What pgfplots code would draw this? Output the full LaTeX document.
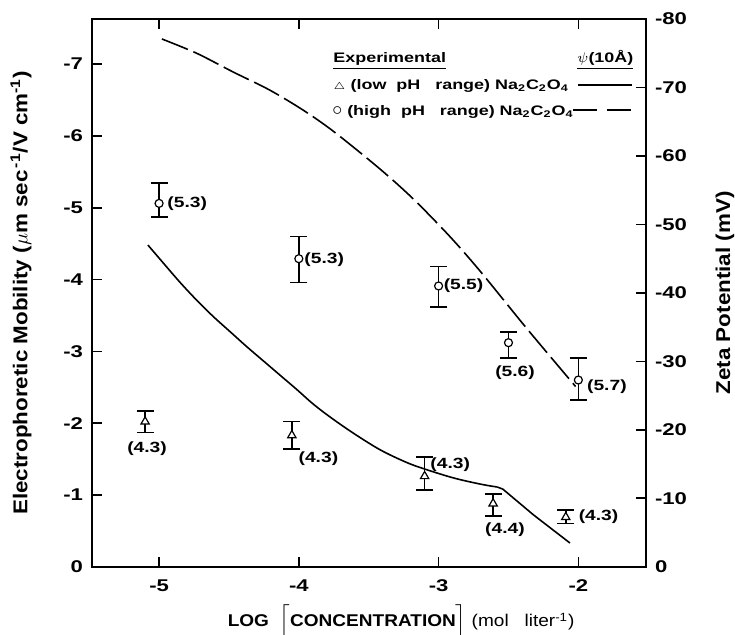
\documentclass[border=0pt]{standalone}
\usepackage{fontspec}
\setmainfont{Liberation Sans}
\newfontfamily\wide{Liberation Sans}[FakeStretch=1.3]
\newfontfamily\semiwide{Liberation Sans}[FakeStretch=1.12]
\usepackage{pgfplots}
\usepackage{pgfplotstable}
\pgfplotsset{compat=1.18}

% Electrophoretic mobility, high pH range (circles): x, y, error plus, error minus
\pgfplotstableread{
x     y      ep    em
-5.00 -5.06  0.19  0.28
-4.00 -4.29  0.33  0.31
-3.00 -3.91  0.29  0.27
-2.50 -3.12  0.21  0.15
-2.00 -2.60  0.28  0.31
}\highpH

% Electrophoretic mobility, low pH range (triangles)
\pgfplotstableread{
x     y      ep    em
-5.10 -2.02  0.15  0.15
-4.05 -1.83  0.19  0.19
-3.10 -1.26  0.19  0.27
-2.61 -0.88  0.17  0.13
-2.09 -0.69  0.09  0.10
}\lowpH

\newcommand{\tickfnt}{\wide\bfseries\fontsize{8.5}{10}\selectfont}
\newcommand{\labfnt}{\wide\bfseries\fontsize{7.4}{8}\selectfont}
\newcommand{\legfnt}{\wide\bfseries\fontsize{6.9}{8}\selectfont}
\newcommand{\oxalate}{Na\textsubscript{2}C\textsubscript{2}O\textsubscript{4}}

\begin{document}
\begin{tikzpicture}
\useasboundingbox (-46pt,-33.65pt) rectangle (321.5pt,283.35pt);
\begin{axis}[
  at={(0pt,0pt)}, anchor=south west,
  scale only axis, width=277pt, height=273.85pt,
  xmin=-5.48, xmax=-1.516, ymin=-7.628, ymax=0,
  y dir=reverse,
  axis line style={line width=1pt},
  tick align=inside, major tick length=5pt,
  tick style={line width=0.8pt, black},
  xtick={-5,-4,-3,-2}, xticklabels={-5,-4,-3,-2},
  xtick pos=both,
  ytick={-7,-6,-5,-4,-3,-2,-1,0},
  yticklabels={-7,-6,-5,-4,-3,-2,-1,0},
  ytick pos=left,
  ticklabel style={font=\tickfnt},
  xticklabel style={yshift=-3pt},
  yticklabel style={xshift=-1pt},
  clip=false,
  error bars/error bar style={line width=0.8pt, black},
  error bars/error mark options={rotate=90, mark size=4.25pt, line width=0.8pt, black},
]
% psi(10 A) curve, low pH: smooth decline, then a kink near log c = -2.6
\addplot[line width=0.8pt, black, smooth, tension=0.55] coordinates {
(-5.08,-4.48) (-4.97,-4.23) (-4.85,-3.96) (-4.73,-3.71) (-4.61,-3.48)
(-4.49,-3.27) (-4.37,-3.06) (-4.25,-2.86) (-4.13,-2.66) (-4.01,-2.46)
(-3.90,-2.27) (-3.78,-2.09) (-3.61,-1.86) (-3.42,-1.63) (-3.25,-1.47)
(-3.13,-1.38) (-2.90,-1.24) (-2.70,-1.15) (-2.58,-1.11)};
\addplot[line width=0.8pt, black] coordinates {
(-2.58,-1.11) (-2.54,-1.08) (-2.32,-0.72) (-2.06,-0.33)};
% psi(10 A) curve, high pH
\addplot[line width=0.8pt, black, smooth, dash pattern=on 14pt off 3pt] coordinates {
(-4.98,-7.35) (-4.73,-7.15) (-4.47,-6.89) (-4.21,-6.64) (-3.97,-6.36)
(-3.75,-6.06) (-3.42,-5.54) (-3.18,-5.12) (-2.92,-4.60) (-2.70,-4.11)
(-2.37,-3.32) (-2.02,-2.51)};
% experimental points
\addplot[only marks, mark=*, mark size=2pt,
  mark options={fill=white, draw=black, line width=0.6pt},
  error bars/.cd, y dir=both, y explicit]
  table[x=x, y=y, y error plus=ep, y error minus=em]{\highpH};
\addplot[only marks, mark=triangle*, mark size=2.4pt,
  mark options={fill=white, draw=black, line width=0.6pt},
  error bars/.cd, y dir=both, y explicit]
  table[x=x, y=y, y error plus=ep, y error minus=em]{\lowpH};

% pH values
\begin{scope}[every node/.style={font=\labfnt, inner sep=0pt}]
\node[anchor=west] at (axis cs:-4.943,-5.05) {(5.3)};
\node[anchor=west] at (axis cs:-3.963,-4.28) {(5.3)};
\node[anchor=west] at (axis cs:-2.966,-3.91) {(5.5)};
\node at (axis cs:-2.453,-2.70) {(5.6)};
\node[anchor=west] at (axis cs:-1.94,-2.51) {(5.7)};
\node at (axis cs:-5.086,-1.65) {(4.3)};
\node at (axis cs:-3.86,-1.51) {(4.3)};
\node[anchor=west] at (axis cs:-3.061,-1.42) {(4.3)};
\node at (axis cs:-2.525,-0.51) {(4.4)};
\node[anchor=west] at (axis cs:-2.0,-0.69) {(4.3)};
\end{scope}

% key
\begin{scope}[every node/.style={font=\legfnt, inner sep=0pt, anchor=base west}]
\node at (rel axis cs:0.435,0.9197) {\underline{Experimental}};
\node at (rel axis cs:0.8755,0.9197) {\underline{$\psi$(10Å)}};
\node at (rel axis cs:0.435,0.872) {$\scriptstyle\triangle$ (low\ \ pH\ \ \ range)\ \oxalate};
\node at (rel axis cs:0.433,0.823) {{\fontsize{10}{10}\selectfont$\circ$} (high\ \ pH\ \ \ range)\ \oxalate};
\end{scope}
\draw[line width=0.75pt] (rel axis cs:0.877,0.8795) -- (rel axis cs:0.9747,0.8795);
\draw[line width=0.75pt, dash pattern=on 12pt off 5pt] (rel axis cs:0.868,0.8338) -- (rel axis cs:0.9747,0.8338);

% axis titles
\node[rotate=90, font=\semiwide\bfseries\fontsize{10}{12}\selectfont] at (rel axis cs:-0.128,0.5)
  {Electrophoretic Mobility ($\mu$m sec\textsuperscript{\,-1}/V cm\textsuperscript{-1})};
\node[rotate=90, font=\semiwide\bfseries\fontsize{10}{12}\selectfont] at (rel axis cs:1.1426,0.5)
  {Zeta Potential (mV)};
\node[anchor=base, font=\semiwide\bfseries\fontsize{8.5}{10}\selectfont] at (rel axis cs:0.558,-0.110)
  {LOG\ \ $\Big\lceil$CONCENTRATION$\Big\rceil$ {\mdseries(mol\ \ \ liter\textsuperscript{-1})}};
\end{axis}

% zeta potential scale
\begin{axis}[
  at={(0pt,0pt)}, anchor=south west,
  scale only axis, width=277pt, height=273.85pt,
  xmin=-5.48, xmax=-1.516, ymin=-80, ymax=0,
  y dir=reverse,
  axis x line=none, axis y line*=right,
  axis line style={line width=1pt},
  tick align=inside, major tick length=5pt,
  tick style={line width=0.8pt, black},
  ytick={-80,-70,-60,-50,-40,-30,-20,-10,0},
  yticklabels={-80,-70,-60,-50,-40,-30,-20,-10,0},
  ticklabel style={font=\tickfnt},
  yticklabel style={xshift=1pt},
]
\end{axis}
\end{tikzpicture}
\end{document}
